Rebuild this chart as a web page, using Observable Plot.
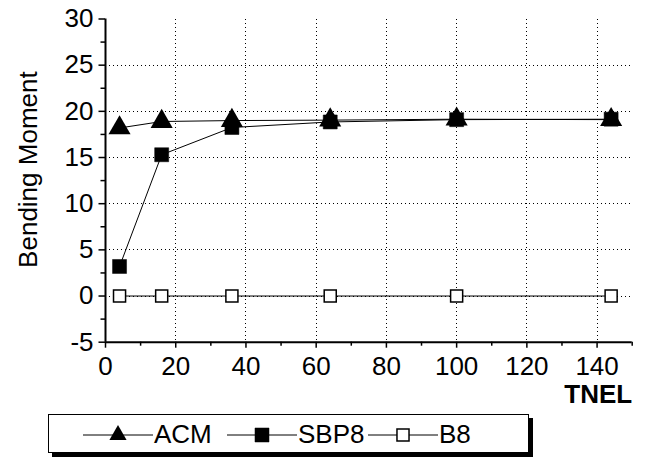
<!DOCTYPE html>
<html>
<head>
<meta charset="utf-8">
<script src="https://cdn.jsdelivr.net/npm/d3@7"></script>
<script src="https://cdn.jsdelivr.net/npm/@observablehq/plot@0.6"></script>
<style>
  html, body { margin: 0; padding: 0; background: #fff; }
  #chart svg, #legend svg { display: block; }
  #chart, #legend { font-family: Arial, "Liberation Sans", sans-serif; }
</style>
</head>
<body>
<div id="chart"></div>
<div id="legend"></div>
<script>
// Mesh sizes (TNEL) and the bending moment computed by each element type
const tnel = [4, 16, 36, 64, 100, 144];
const acm = [18.2, 18.9, 19.0, 19.05, 19.15, 19.1];
const sbp8 = [3.2, 15.3, 18.25, 18.85, 19.1, 19.15];
const b8 = [0, 0, 0, 0, 0, 0];
const seriesNames = ["ACM", "SBP8", "B8"];

// Axis ticks and grid lines
const xTicks = [0, 20, 40, 60, 80, 100, 120, 140];
const xMinorTicks = [10, 30, 50, 70, 90, 110, 130, 150];
const yTicks = [-5, 0, 5, 10, 15, 20, 25, 30];
const yMinorTicks = [-2.5, 2.5, 7.5, 12.5, 17.5, 22.5, 27.5];
const xGrid = [20, 40, 60, 80, 100, 120, 140];
const yGrid = [0, 5, 10, 15, 20, 25];
const xTitle = "TNEL";
const yTitle = "Bending Moment";

const seriesValues = [acm, sbp8, b8];
const rows = seriesNames.flatMap((name, k) =>
  tnel.map((t, i) => ({series: name, tnel: t, value: seriesValues[k][i]}))
);

// Marker style for each series
const markerStyle = {
  ACM:  {symbol: "triangle", r: 8.2, fill: "#000", stroke: "none", strokeWidth: 0},
  SBP8: {symbol: "square",   r: 7.9, fill: "#000", stroke: "#000", strokeWidth: 0.5},
  B8:   {symbol: "square",   r: 6.8, fill: "#fff", stroke: "#000", strokeWidth: 1.5}
};

// Dotted grid, kept crisp so each dot renders solid black
const dotted = {stroke: "#000", strokeOpacity: 1, strokeWidth: 1, strokeDasharray: "1,3", shapeRendering: "crispEdges"};
const fontSize = 26;

const chart = Plot.plot({
  width: 648,
  height: 410,
  marginLeft: 105,
  marginRight: 16.3,
  marginTop: 18.5,
  marginBottom: 68.3,
  style: {fontFamily: "Arial, 'Liberation Sans', sans-serif", fontSize: "26px", color: "#000", background: "#fff"},
  x: {domain: [0, 150]},
  y: {domain: [-5, 30]},
  marks: [
    Plot.gridX(xGrid, dotted),
    Plot.gridY(yGrid, dotted),
    Plot.axisY(yTicks, {tickSize: 6.5, tickPadding: 5.5, fontSize, label: null, tickFormat: d => String(d), strokeWidth: 1.5}),
    Plot.axisY(yMinorTicks, {tickSize: 4.5, text: null, label: null, strokeWidth: 1.5}),
    Plot.axisX(xTicks, {tickSize: 6, tickPadding: 8.5, fontSize, label: null, tickFormat: d => String(d), strokeWidth: 1.5}),
    Plot.axisX(xMinorTicks, {tickSize: 4, text: null, label: null, strokeWidth: 1.5}),
    Plot.ruleX([0], {stroke: "#000", strokeWidth: 2}),
    Plot.ruleY([-5], {stroke: "#000", strokeWidth: 2}),
    ...seriesNames.slice().reverse().map(name =>
      Plot.line(rows.filter(d => d.series === name), {x: "tnel", y: "value", stroke: "#000", strokeWidth: 1})
    ),
    ...seriesNames.slice().reverse().map(name =>
      Plot.dot(rows.filter(d => d.series === name), {x: "tnel", y: "value", ...markerStyle[name]})
    ),
    Plot.text([xTitle], {text: d => d, frameAnchor: "bottom-right", dy: 42, lineAnchor: "top", textAnchor: "end", fontWeight: "bold", fontSize}),
    Plot.text([yTitle], {text: d => d, frameAnchor: "left", dx: -76.8, dy: -11, rotate: -90, textAnchor: "middle", lineAnchor: "middle", fontSize})
  ]
});
document.getElementById("chart").append(chart);

// Legend strip below the plot: framed box with a drop shadow
const legend = d3.create("svg").attr("width", 648).attr("height", 47);
const box = {x: 48, y: 4, w: 481, h: 39, shadow: 4};
legend.append("rect")
  .attr("x", box.x + box.shadow).attr("y", box.y + box.shadow)
  .attr("width", box.w).attr("height", box.h).attr("fill", "#000");
legend.append("rect")
  .attr("x", box.x + 0.5).attr("y", box.y + 0.5)
  .attr("width", box.w - 1).attr("height", box.h - 1)
  .attr("fill", "#fff").attr("stroke", "#000").attr("stroke-width", 1);

const itemStart = [83, 227, 368];
const segLen = 70;
const cy = 25;
const symbolOf = {triangle: d3.symbolTriangle2, square: d3.symbolSquare};
seriesNames.forEach((name, k) => {
  const x0 = itemStart[k];
  const m = markerStyle[name];
  const g = legend.append("g");
  g.append("line")
    .attr("x1", x0).attr("x2", x0 + segLen).attr("y1", cy).attr("y2", cy)
    .attr("stroke", "#000").attr("stroke-width", 1);
  g.append("path")
    .attr("transform", `translate(${x0 + segLen / 2},${cy})`)
    .attr("d", d3.symbol(symbolOf[m.symbol], Math.PI * m.r * m.r)())
    .attr("fill", m.fill).attr("stroke", m.stroke).attr("stroke-width", m.strokeWidth);
  g.append("text")
    .attr("x", x0 + segLen + 1).attr("y", cy + 0.32 * fontSize)
    .attr("font-size", fontSize).attr("fill", "#000")
    .text(name);
});
document.getElementById("legend").append(legend.node());
</script>
</body>
</html>
